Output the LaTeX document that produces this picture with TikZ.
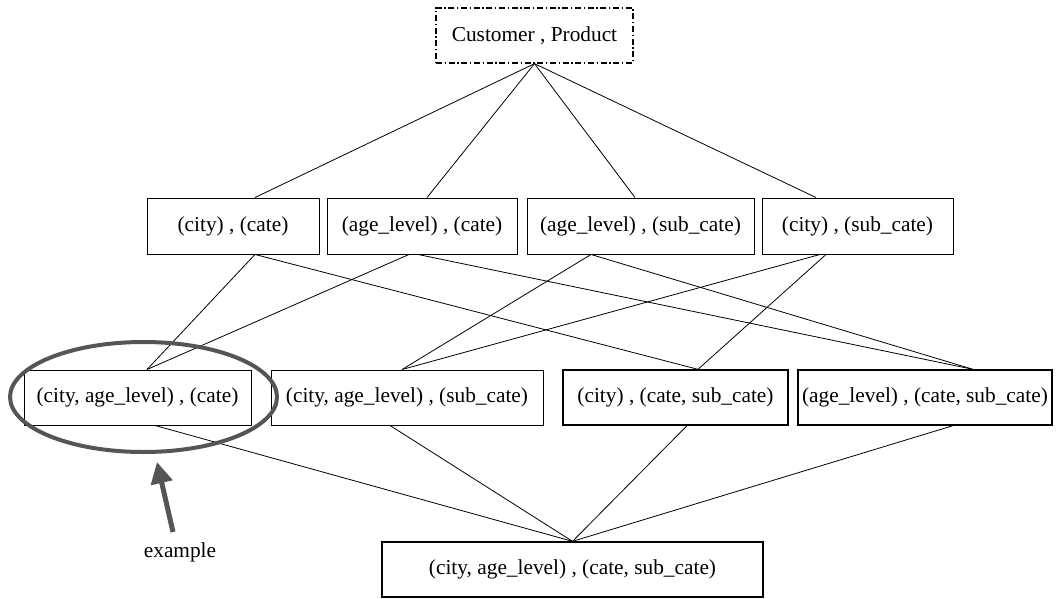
\documentclass[tikz,border=0pt]{standalone}
\usepackage{fontspec}
\setmainfont{Liberation Serif}
\usetikzlibrary{calc,arrows.meta}
\definecolor{markgray}{HTML}{555555}
\begin{document}
\begin{tikzpicture}[x=0.75pt,y=-0.75pt,
  every node/.style={font=\fontsize{16}{19}\selectfont},
  box/.style={draw,line width=0.7pt,inner sep=0pt,minimum height=42pt},
  boxb/.style={box,line width=1pt,minimum height=41.25pt},
  topbox/.style={draw,line width=1pt,dash pattern=on 4.5pt off 2pt on 1pt off 2pt,inner sep=0pt,minimum width=147.75pt,minimum height=41.25pt},
  link/.style={line width=0.6pt},
  hiring/.style={draw=markgray,line width=3pt},
  pointer/.style={draw=markgray,line width=3.75pt,-{Triangle[length=16pt,width=16pt]}}]
\useasboundingbox (0,0) rectangle (1064,599);
\node[topbox] (T) at (534.5,35.5) {Customer , Product};
\node[box,minimum width=129pt] (A) at (233,226) {(city) , (cate)};
\node[box,minimum width=142.5pt] (B) at (422,226) {(age\_level) , (cate)};
\node[box,minimum width=170.25pt] (C) at (640.5,226) {(age\_level) , (sub\_cate)};
\node[box,minimum width=143.25pt] (D) at (857.5,226) {(city) , (sub\_cate)};
\node[box,minimum width=170.25pt,minimum height=41.25pt] (E) at (137.5,397.5) {(city, age\_level) , (cate)};
\node[box,minimum width=204pt,minimum height=41.25pt] (F) at (407,397.5) {(city, age\_level) , (sub\_cate)};
\node[boxb,minimum width=168.75pt] (G) at (675.5,397.5) {(city) , (cate, sub\_cate)};
\node[boxb,minimum width=190.5pt] (H) at (925,397.5) {(age\_level) , (cate, sub\_cate)};
\node[boxb,minimum width=285.75pt] (I) at (572.5,569.5) {(city, age\_level) , (cate, sub\_cate)};
% top to row 2
\draw[link] (T.south) -- ($(A.north)+(22,0)$);
\draw[link] (T.south) -- ($(B.north)+(5,0)$);
\draw[link] (T.south) -- ($(C.north)+(-5.5,0)$);
\draw[link] (T.south) -- ($(D.north)+(-41.5,0)$);
% row 2 to row 3
\draw[link] ($(A.south)+(22,0)$) -- ($(E.north)+(9.5,0)$);
\draw[link] ($(A.south)+(22,0)$) -- ($(G.north)+(22.5,0)$);
\draw[link] ($(B.south)+(-13,0)$) -- ($(E.north)+(9.5,0)$);
\draw[link] ($(B.south)+(-4,0)$) -- ($(H.north)+(48,0)$);
\draw[link] ($(C.south)+(-49.5,0)$) -- ($(F.north)+(-5,0)$);
\draw[link] ($(C.south)+(-49.5,0)$) -- ($(H.north)+(48,0)$);
\draw[link] ($(D.south)+(-37.5,0)$) -- ($(F.north)+(-5,0)$);
\draw[link] ($(D.south)+(-31.5,0)$) -- ($(G.north)+(22.5,0)$);
% row 3 to bottom
\draw[link] ($(E.south)+(17.5,0)$) -- (I.north);
\draw[link] ($(F.south)+(-17,0)$) -- (I.north);
\draw[link] ($(G.south)+(11.5,0)$) -- (I.north);
\draw[link] ($(H.south)+(28,0)$) -- (I.north);
% highlight
\draw[hiring] (143.5,397) ellipse [x radius=133.5, y radius=55];
\coordinate (ptail) at (173,532);
\coordinate (phead) at (157,462);
\draw[pointer] (ptail) -- (phead);
\node (ex) at (180,552) {example};
\end{tikzpicture}
\end{document}
